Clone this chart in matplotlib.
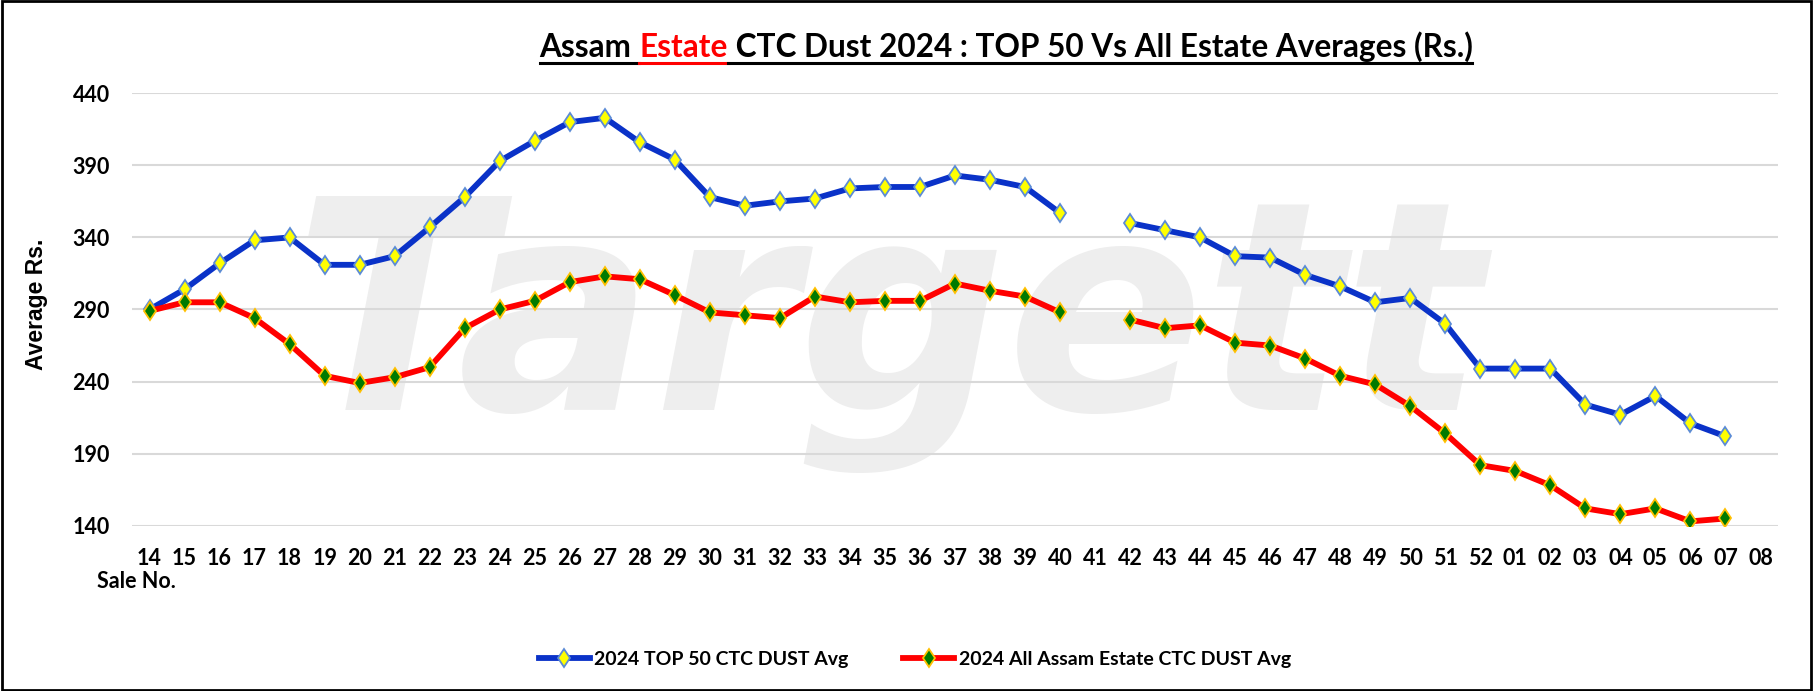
import numpy as np
import matplotlib
matplotlib.use("Agg")
import matplotlib.pyplot as plt
from matplotlib.patches import Rectangle

# sale numbers (2024 season runs into 2025)
sales = ['14', '15', '16', '17', '18', '19', '20', '21', '22', '23', '24', '25', '26',
         '27', '28', '29', '30', '31', '32', '33', '34', '35', '36', '37', '38', '39',
         '40', '41', '42', '43', '44', '45', '46', '47', '48', '49', '50', '51', '52',
         '01', '02', '03', '04', '05', '06', '07', '08']

nan = np.nan
top50 = [290, 304, 322, 338, 340, 321, 321, 327, 347, 368, 393, 407, 420,
         423, 406, 394, 368, 362, 365, 367, 374, 375, 375, 383, 380, 375,
         357, nan, 350, 345, 340, 327, 326, 314, 306, 295, 298, 280, 249,
         249, 249, 224, 217, 230, 211, 202, nan]
all_estate = [289, 295, 295, 284, 266, 244, 239, 243, 250, 277, 290, 296, 309,
              313, 311, 300, 288, 286, 284, 299, 295, 296, 296, 308, 303, 299,
              288, nan, 283, 277, 279, 267, 265, 256, 244, 238, 223, 204, 182,
              178, 168, 152, 148, 152, 143, 145, nan]

yticks = [140, 190, 240, 290, 340, 390, 440]

font = 'Lato'
W, H = 1813, 691

fig = plt.figure(figsize=(W / 100, H / 100), dpi=100)
fig.patch.set_facecolor('white')
renderer = fig.canvas.get_renderer()

# faint watermark behind the chart
fig.text(0.49, 0.52, 'Targett', fontsize=210, fontweight='bold', style='italic',
         color='#eeeeee', ha='center', va='center', zorder=-1, family='DejaVu Sans')

ax = fig.add_axes([132 / W, 1 - 525.7 / H, (1778 - 132) / W, (525.7 - 93.3) / H])
ax.set_facecolor('none')
x = np.arange(len(sales))

ax.plot(x, top50, color='#0a32c8', lw=4.2, marker='d', ms=9.5, mfc='#ffff00',
        mec='#5b8bd6', mew=1.3, label='2024 TOP 50 CTC DUST Avg', zorder=3)
ax.plot(x, all_estate, color='#ff0000', lw=4.2, marker='d', ms=9.5, mfc='#007a00',
        mec='#ffc000', mew=1.3, label='2024 All Assam Estate CTC DUST Avg', zorder=3)

ax.set_xlim(-0.5, len(sales) - 0.5)
ax.set_ylim(140, 440)
ax.set_yticks(yticks)
ax.set_xticks(x)
ax.set_xticklabels(sales)
ax.tick_params(length=0, labelsize=15.5, pad=16)
ax.tick_params(axis='y', pad=16)
for lab in ax.get_xticklabels() + ax.get_yticklabels():
    lab.set_fontweight('bold')
    lab.set_family(font)
ax.grid(axis='y', color='#d9d9d9', lw=1.5, zorder=1)
for s in ax.spines.values():
    s.set_visible(False)

fig.text(36 / W, 1 - 304 / H, 'Average Rs.', rotation=90, fontsize=16.5, fontweight='bold',
         ha='center', va='center', family='Liberation Sans')
fig.text(97 / W, 1 - 582 / H, 'Sale No.', fontsize=15.5, fontweight='bold',
         ha='left', va='center', family=font)

# title with red word, underlined, centred on x=1006 px and ~932 px wide
title_parts = [('Assam ', 'black'), ('Estate', '#ff0000'),
               (' CTC Dust 2024 : TOP 50 Vs All Estate Averages (Rs.)', 'black')]
texts = []
for s, c in title_parts:
    t = fig.text(0, 1 - 57 / H, s, fontsize=22, fontweight='bold', color=c,
                 family=font, va='baseline')
    texts.append(t)
total = sum(t.get_window_extent(renderer).width for t in texts)
fs = 22 * 932 / total
for t in texts:
    t.set_fontsize(fs)
widths = [t.get_window_extent(renderer).width for t in texts]
x0 = 1006 - sum(widths) / 2
for t, w in zip(texts, widths):
    t.set_x(x0 / W)
    fig.add_artist(plt.Line2D([x0 / W, (x0 + w) / W], [1 - 63 / H, 1 - 63 / H],
                              color=t.get_color(), lw=2.2, transform=fig.transFigure))
    x0 += w

leg = fig.legend(loc='center', bbox_to_anchor=(915 / W, 1 - 659 / H), ncol=2, frameon=False,
                 fontsize=14, handlelength=2.6, columnspacing=2.8, handletextpad=0.25)
for t in leg.get_texts():
    t.set_fontweight('bold')
    t.set_family(font)

fig.add_artist(Rectangle((0.001, 0.001), 0.998, 0.997, fill=False, ec='black',
                         lw=2, transform=fig.transFigure))

fig.savefig('out.png', dpi=100, facecolor='white')
